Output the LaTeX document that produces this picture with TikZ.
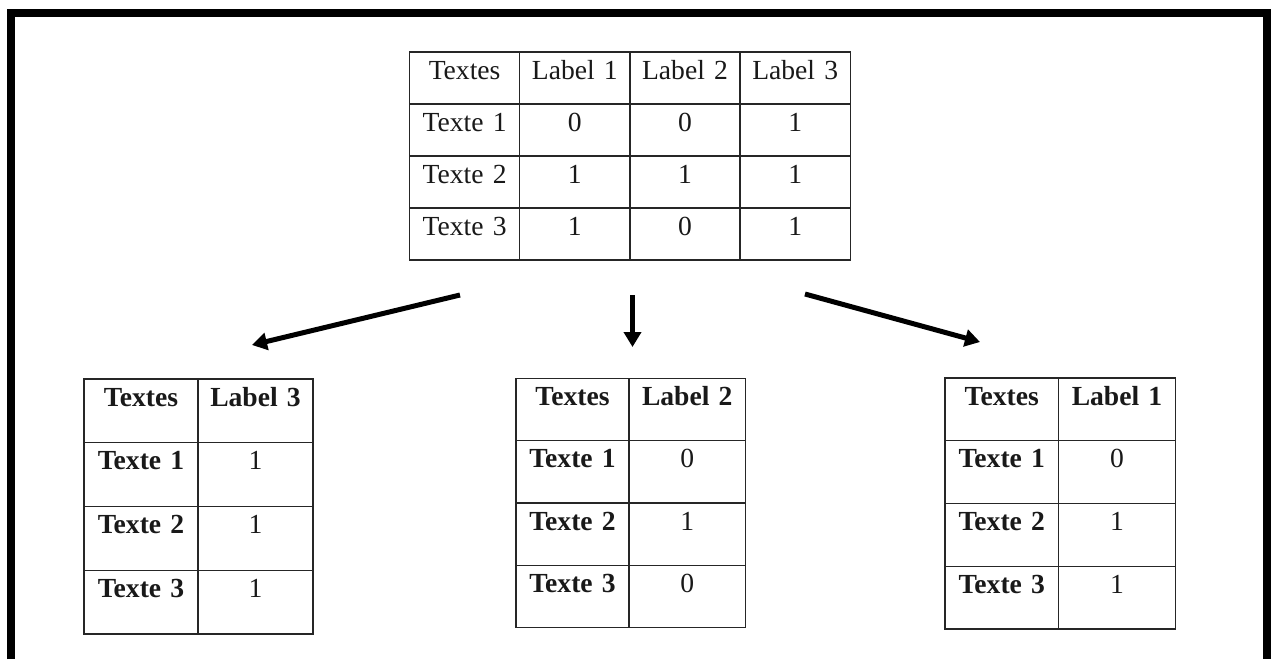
\documentclass[tikz,border=0pt]{standalone}
\usepackage{fontspec}
\setmainfont{Liberation Serif}
\usetikzlibrary{arrows.meta}

\tikzset{
  cell/.style={draw=black!85, line width=1.3pt, inner sep=0pt, outer sep=0pt,
               anchor=north west, align=center, text=black!90,
               font=\fontsize{27.6}{30}\selectfont},
  flow/.style={line width=5pt, -{Triangle[length=15pt,width=17pt]}},
  frame/.style={line width=8.5pt, line join=miter}
}

\begin{document}
\begin{tikzpicture}[x=1pt,y=-1pt]
  % page area and heavy frame (open at the bottom)
  \fill[white] (0,0) rectangle (1271,659);
  \useasboundingbox (0,0) rectangle (1271,659);
  \draw[frame] (11,659) -- (11,13) -- (1266.75,13) -- (1266.75,659);

  % full multi-label table
  \foreach \ta/\tb/\tc/\td [count=\r from 0] in
      {Textes/Label 1/Label 2/Label 3,
       Texte 1/0/0/1,
       Texte 2/1/1/1,
       Texte 3/1/0/1}{
    \foreach \txt [count=\c from 0] in {\ta,\tb,\tc,\td}{
      \node[cell, text width=110.2pt, text height=27pt, text depth=25pt]
        (top-\r-\c) at ({409.5+110.2*\c},{52+52*\r}) {\txt};
    }
  }

  % one binary table per label
  \foreach \lab/\va/\vb/\vc/\nm/\xo/\wa/\wb/\yo/\hh in
      {Label 3/1/1/1/left/84/114/115/379/63.75,
       Label 2/0/1/0/mid/516/113/116.5/378.5/62.25,
       Label 1/0/1/1/right/945/113.5/117/378/62.75}{
    \pgfmathsetmacro\dd{\hh-27}
    \pgfmathsetmacro\xm{\xo+\wa}
    \node[cell, text width=\wa pt, text height=27pt, text depth=\dd pt]
      (\nm-0-0) at (\xo,\yo) {\bfseries Textes};
    \node[cell, text width=\wb pt, text height=27pt, text depth=\dd pt]
      (\nm-0-1) at (\xm,\yo) {\bfseries \lab};
    \foreach \rt/\rv [count=\r from 1] in {Texte 1/\va,Texte 2/\vb,Texte 3/\vc}{
      \pgfmathsetmacro\yr{\yo+\hh*\r}
      \node[cell, text width=\wa pt, text height=27pt, text depth=\dd pt]
        (\nm-\r-0) at (\xo,\yr) {\bfseries \rt};
      \node[cell, text width=\wb pt, text height=27pt, text depth=\dd pt]
        (\nm-\r-1) at (\xm,\yr) {\rv};
    }
  }

  % arrows from the full table towards the three label tables
  \coordinate (arr-left-from)  at (460,295);
  \coordinate (arr-left-to)    at (252,345);
  \coordinate (arr-mid-from)   at (632.5,295);
  \coordinate (arr-mid-to)     at (632.5,347);
  \coordinate (arr-right-from) at (805,294);
  \coordinate (arr-right-to)   at (980,342);
  \draw[flow] (arr-left-from)  -- (arr-left-to);
  \draw[flow] (arr-mid-from)   -- (arr-mid-to);
  \draw[flow] (arr-right-from) -- (arr-right-to);
\end{tikzpicture}
\end{document}
